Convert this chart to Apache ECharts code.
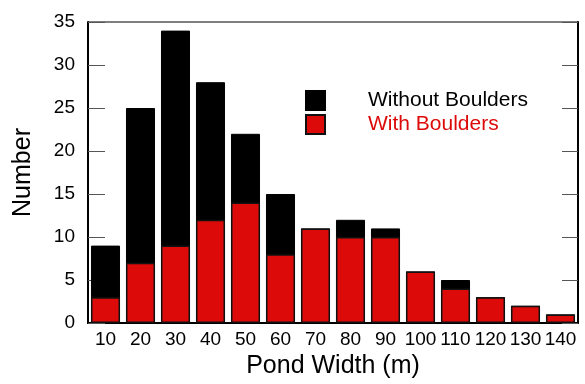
<!DOCTYPE html>
<html>
<head>
<meta charset="utf-8">
<script src="https://cdn.jsdelivr.net/npm/echarts@6/dist/echarts.min.js"></script>
<style>
  html, body { margin: 0; padding: 0; background: #fff; }
  #chart { width: 585px; height: 384px; }
</style>
</head>
<body>
<div id="chart"></div>
<script>
// pond width classes
var widths = ['10', '20', '30', '40', '50', '60', '70', '80', '90', '100', '110', '120', '130', '140'];
var withoutBoulders = [9, 25, 34, 28, 22, 15, 11, 12, 11, 6, 5, 3, 2, 1];
var withBoulders = [3, 7, 9, 12, 14, 8, 11, 10, 10, 6, 4, 3, 2, 1];
var yTicks = [0, 5, 10, 15, 20, 25, 30, 35];

var chart = echarts.init(document.getElementById('chart'));
var fontFam = 'Liberation Sans, Arial, sans-serif';
var redCol = '#dd0a0a';

var option = {
    animation: false,
    textStyle: { fontFamily: fontFam },
    grid: {
        left: 88, right: 7, top: 22, bottom: 60,
        show: true, borderColor: '#000', borderWidth: 1
    },
    legend: {
        orient: 'vertical',
        left: 300, top: 85,
        icon: 'rect',
        itemWidth: 19, itemHeight: 19,
        itemGap: 3,
        data: [
            { name: 'Without Boulders', textStyle: { color: '#000' } },
            { name: 'With Boulders', textStyle: { color: redCol } }
        ],
        textStyle: { fontSize: 21, lineHeight: 20, fontFamily: fontFam, padding: [0, 0, 0, 38] }
    },
    xAxis: [
        {
            type: 'category',
            data: widths,
            name: 'Pond Width (m)',
            nameLocation: 'middle',
            nameGap: 31,
            nameTextStyle: { fontSize: 25, color: '#000' },
            axisLine: { lineStyle: { color: '#000', width: 2 } },
            axisTick: { inside: true, length: 17, lineStyle: { color: '#555' } },
            axisLabel: { interval: 0, fontSize: 19, color: '#000', margin: 7 }
        },
        {
            type: 'category',
            data: widths,
            position: 'top',
            axisLine: { lineStyle: { color: '#000', width: 1 } },
            axisTick: { inside: true, length: 17, lineStyle: { color: '#555' } },
            axisLabel: { show: false }
        }
    ],
    yAxis: [
        {
            type: 'value',
            min: 0, max: 35, interval: 5,
            name: 'Number',
            nameLocation: 'middle',
            nameGap: 52,
            nameTextStyle: { fontSize: 25, color: '#000' },
            axisLine: { show: true, lineStyle: { color: '#000', width: 2 } },
            axisTick: { show: true, inside: true, length: 17, lineStyle: { color: '#555' } },
            axisLabel: {
                fontSize: 19, color: '#000', margin: 13,
                formatter: function (v) { return yTicks.indexOf(v) >= 0 ? String(v) : ''; }
            },
            splitLine: { show: false }
        },
        {
            type: 'value',
            min: 0, max: 35, interval: 5,
            position: 'right',
            axisLine: { show: true, lineStyle: { color: '#000', width: 2 } },
            axisTick: { show: true, inside: true, length: 16, lineStyle: { color: '#555' } },
            axisLabel: { show: false },
            splitLine: { show: false }
        }
    ],
    series: [
        {
            name: 'Without Boulders',
            type: 'bar',
            barWidth: '83%',
            barGap: '-100%',
            itemStyle: { color: '#000', borderColor: '#000', borderWidth: 1 },
            data: withoutBoulders
        },
        {
            name: 'With Boulders',
            type: 'bar',
            barWidth: '83%',
            itemStyle: { color: redCol, borderColor: '#111', borderWidth: 1.5 },
            data: withBoulders
        }
    ]
};
chart.setOption(option);
</script>
</body>
</html>
